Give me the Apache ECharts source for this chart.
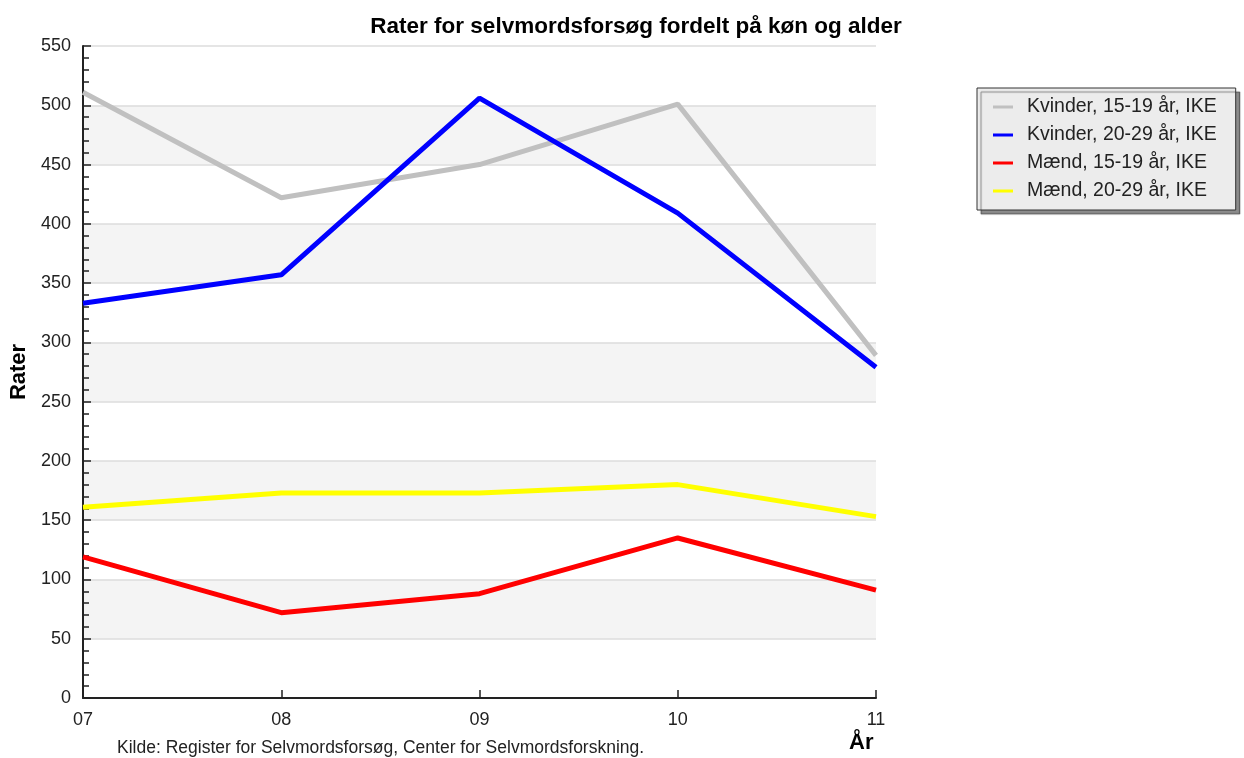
<!DOCTYPE html>
<html>
<head>
<meta charset="utf-8">
<script src="https://cdn.jsdelivr.net/npm/echarts@6/dist/echarts.min.js"></script>
<style>
  html, body { margin: 0; padding: 0; background: #fff; }
  #chart { width: 1244px; height: 758px; }
</style>
</head>
<body>
<div id="chart"></div>
<script>
// Years on the x axis (two-digit labels)
const years = ['07', '08', '09', '10', '11'];

// Attempt rates per series
const kvinder1519 = [511, 422, 450, 501, 289];
const kvinder2029 = [333, 357, 506, 409, 279];
const maend1519 = [119, 72, 88, 135, 91];
const maend2029 = [161, 173, 173, 180, 153];

const seriesNames = [
  'Kvinder, 15-19 år, IKE',
  'Kvinder, 20-29 år, IKE',
  'Mænd, 15-19 år, IKE',
  'Mænd, 20-29 år, IKE'
];
const seriesColors = ['#c0c0c0', '#0000ff', '#ff0000', '#ffff00'];
const seriesData = [kvinder1519, kvinder2029, maend1519, maend2029];

const font = 'Liberation Sans, Arial, sans-serif';

const chart = echarts.init(document.getElementById('chart'), null, { renderer: 'canvas' });

chart.setOption({
  backgroundColor: '#ffffff',
  animation: false,
  title: {
    text: 'Rater for selvmordsforsøg fordelt på køn og alder',
    left: 631,
    textAlign: 'center',
    top: 10,
    textStyle: { fontFamily: font, fontWeight: 'bold', fontSize: 22.5, color: '#000' }
  },
  legend: {
    orient: 'vertical',
    left: 977,
    top: 88,
    padding: [9, 19, 9, 16],
    itemGap: 8,
    itemWidth: 20,
    itemHeight: 3,
    icon: 'rect',
    backgroundColor: '#ececec',
    borderColor: '#333',
    borderWidth: 1,
    borderRadius: 0,
    shadowColor: 'rgba(0,0,0,0.45)',
    shadowBlur: 1,
    shadowOffsetX: 4,
    shadowOffsetY: 4,
    textStyle: { fontFamily: font, fontSize: 19.5, color: '#222', padding: [0, 0, 0, 9] },
    data: seriesNames
  },
  grid: { left: 83, right: 368, top: 46, bottom: 60, containLabel: false },
  xAxis: {
    type: 'category',
    data: years,
    boundaryGap: false,
    axisLine: { lineStyle: { color: '#222', width: 2 } },
    axisTick: { inside: true, length: 8, lineStyle: { color: '#222', width: 1.5 } },
    axisLabel: { fontFamily: font, fontSize: 18, color: '#222', margin: 13 },
    splitLine: { show: false }
  },
  yAxis: {
    type: 'value',
    min: 0,
    max: 550,
    interval: 50,
    name: 'Rater',
    nameLocation: 'middle',
    nameGap: 53,
    nameRotate: 90,
    nameTextStyle: { fontFamily: font, fontWeight: 'bold', fontSize: 22, color: '#000' },
    axisLine: { show: true, lineStyle: { color: '#222', width: 2 } },
    axisTick: { show: true, inside: true, length: 8, lineStyle: { color: '#222', width: 1.5 } },
    minorTick: { show: true, splitNumber: 5, length: 6, lineStyle: { color: '#222', width: 1.5 } },
    axisLabel: { fontFamily: font, fontSize: 18, color: '#222', margin: 12 },
    splitLine: { show: true, lineStyle: { color: '#dcdcdc', width: 1.5 } },
    splitArea: { show: true, areaStyle: { color: ['#ffffff', '#f4f4f4'] } }
  },
  graphic: [
    {
      type: 'text',
      left: 117,
      top: 739,
      style: {
        text: 'Kilde: Register for Selvmordsforsøg, Center for Selvmordsforskning.',
        font: '17.5px ' + font,
        fill: '#222'
      }
    },
    {
      type: 'text',
      left: 849,
      top: 732,
      style: { text: 'År', font: 'bold 22px ' + font, fill: '#000' }
    }
  ],
  series: seriesNames.map((name, i) => ({
    name: name,
    type: 'line',
    data: seriesData[i],
    symbol: 'none',
    color: seriesColors[i],
    lineStyle: { color: seriesColors[i], width: 5 }
  }))
});
</script>
</body>
</html>
